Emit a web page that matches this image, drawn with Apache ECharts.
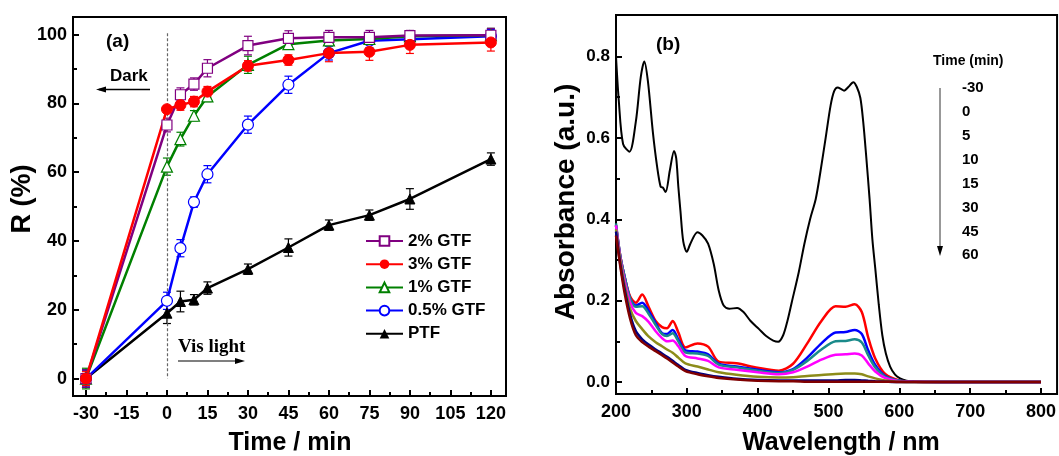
<!DOCTYPE html>
<html>
<head>
<meta charset="utf-8">
<script src="https://cdn.jsdelivr.net/npm/echarts@6/dist/echarts.min.js"></script>
<style>
  html, body { margin: 0; padding: 0; background: #fff; }
  #chart { width: 1059px; height: 456px; }
</style>
</head>
<body>
<div id="chart"></div>
<script>
// (a) R vs time
const timeMin = [-30, 0, 5, 10, 15, 30, 45, 60, 75, 90, 120];
const r2GTF = [0, 73.7, 82.5, 85.6, 90.2, 96.8, 98.9, 99.2, 99.2, 99.7, 99.8];
const e2GTF = [2.5, 2, 2, 1.8, 2.5, 2.7, 2.2, 2, 2, 1.5, 2];
const r3GTF = [0, 78.3, 79.5, 80.5, 83.4, 90.9, 92.6, 94.6, 95.0, 97.0, 97.7];
const e3GTF = [2, 1, 1.5, 1.5, 1.5, 1.5, 1.5, 2.5, 2.5, 2.5, 2.5];
const r1GTF = [0, 61.6, 69.6, 76.4, 82.0, 91.2, 97.2, 98.3, 98.7, 99.5, 99.8];
const e1GTF = [3, 2.5, 2, 1.5, 1.5, 2.5, 1.5, 1.5, 1.5, 1.5, 2];
const r05GTF = [0, 22.6, 37.9, 51.3, 59.4, 73.8, 85.4, 94.6, 98.2, 98.6, 99.5];
const e05GTF = [2.5, 2.5, 2.5, 1.5, 2.5, 2.5, 2.5, 2, 2, 2, 2];
const rPTF = [0, 19.0, 22.4, 22.9, 26.3, 31.8, 38.1, 44.6, 47.5, 52.2, 63.8];
const ePTF = [2.5, 3, 3, 1.5, 1.8, 1.5, 2.5, 1.5, 1.5, 3, 1.8];

const timeTicks = [-30, -15, 0, 15, 30, 45, 60, 75, 90, 105, 120];
const timeMinor = [-22.5, -7.5, 7.5, 22.5, 37.5, 52.5, 67.5, 82.5, 97.5, 112.5];
const rTicks = [0, 20, 40, 60, 80, 100];
const rMinor = [10, 30, 50, 70, 90];

// (b) absorbance spectra
const wlBlack = [200, 204, 210, 219, 228, 235, 240, 245, 252, 258, 263, 266, 270, 276, 282, 285, 288, 291, 295, 300,
  305, 315, 322, 330, 338, 345, 352, 360, 371, 380, 390, 402, 412, 422, 429, 436, 442, 448, 458, 466, 474, 482,
  488, 496, 503, 508, 513, 518, 522, 528, 535, 540, 545, 549, 553, 558, 562, 566, 571, 576, 581, 587, 594, 601,
  610, 620, 700, 800];
const absM30 = [0.80, 0.69, 0.585, 0.566, 0.64, 0.75, 0.788, 0.74, 0.615, 0.53, 0.48, 0.478, 0.467, 0.52, 0.568, 0.55,
  0.48, 0.42, 0.345, 0.32, 0.34, 0.368, 0.36, 0.34, 0.29, 0.225, 0.188, 0.18, 0.182, 0.172, 0.15, 0.13, 0.113,
  0.102, 0.099, 0.115, 0.15, 0.195, 0.27, 0.34, 0.40, 0.45, 0.51, 0.60, 0.68, 0.715, 0.724, 0.72, 0.716, 0.725,
  0.737, 0.725, 0.698, 0.64, 0.56, 0.45, 0.35, 0.28, 0.19, 0.115, 0.07, 0.038, 0.018, 0.009, 0.003, 0.001, 0, 0];

const wl = [200, 206, 212, 220, 228, 237, 246, 256, 265, 272, 280, 288, 298, 315, 330, 345, 370, 400, 430, 450,
  470, 490, 510, 524, 537, 547, 556, 566, 580, 600, 620, 700, 800];
const abs0 = [0.385, 0.31, 0.26, 0.21, 0.195, 0.215, 0.185, 0.15, 0.135, 0.132, 0.15, 0.122, 0.085, 0.095, 0.087,
  0.05, 0.046, 0.035, 0.028, 0.045, 0.095, 0.15, 0.186, 0.185, 0.191, 0.172, 0.11, 0.058, 0.02, 0.004, 0.001, 0, 0];
const abs5 = [0.385, 0.31, 0.26, 0.205, 0.188, 0.195, 0.175, 0.145, 0.12, 0.118, 0.128, 0.105, 0.078, 0.075, 0.068,
  0.045, 0.038, 0.03, 0.024, 0.032, 0.06, 0.095, 0.122, 0.123, 0.128, 0.118, 0.078, 0.042, 0.015, 0.003, 0.001, 0, 0];
const abs10 = [0.39, 0.31, 0.26, 0.205, 0.185, 0.186, 0.168, 0.14, 0.118, 0.113, 0.12, 0.1, 0.073, 0.07, 0.064,
  0.043, 0.036, 0.028, 0.022, 0.03, 0.052, 0.08, 0.1, 0.101, 0.105, 0.097, 0.066, 0.036, 0.013, 0.003, 0.001, 0, 0];
const abs15 = [0.385, 0.305, 0.25, 0.195, 0.17, 0.162, 0.148, 0.125, 0.108, 0.1, 0.102, 0.088, 0.064, 0.058, 0.052,
  0.036, 0.03, 0.024, 0.019, 0.024, 0.038, 0.055, 0.067, 0.068, 0.07, 0.065, 0.046, 0.026, 0.01, 0.002, 0.001, 0, 0];
const abs30 = [0.375, 0.30, 0.24, 0.18, 0.15, 0.13, 0.112, 0.098, 0.088, 0.08, 0.072, 0.06, 0.046, 0.038, 0.031,
  0.024, 0.018, 0.013, 0.011, 0.012, 0.015, 0.017, 0.02, 0.021, 0.021, 0.019, 0.014, 0.009, 0.004, 0.001, 0, 0, 0];
const abs45 = [0.37, 0.29, 0.23, 0.165, 0.125, 0.105, 0.092, 0.08, 0.07, 0.062, 0.052, 0.042, 0.03, 0.022, 0.017,
  0.013, 0.008, 0.005, 0.004, 0.004, 0.004, 0.004, 0.004, 0.005, 0.005, 0.004, 0.003, 0.002, 0.001, 0, 0, 0, 0];
const abs60 = [0.36, 0.285, 0.22, 0.155, 0.115, 0.098, 0.087, 0.076, 0.066, 0.058, 0.048, 0.038, 0.027, 0.019, 0.014,
  0.01, 0.006, 0.003, 0.002, 0.002, 0.001, 0.001, 0.001, 0.001, 0.001, 0.001, 0.001, 0.001, 0.001, 0, 0, 0, 0];

const wlTicks = [200, 300, 400, 500, 600, 700, 800];
const wlMinor = [250, 350, 450, 550, 650, 750];
const absTicks = [0, 0.2, 0.4, 0.6, 0.8];
const absMinor = [0.1, 0.3, 0.5, 0.7];
const timeLabels = ['-30', '0', '5', '10', '15', '30', '45', '60'];

const FONT = "'Liberation Sans', Arial, sans-serif";

function majorAxis(grid, pos, min, max, ticks, fmt, fontSize, margin) {
    return {
        type: 'value', gridIndex: grid, position: pos, min: min, max: max,
        axisLine: { show: false, onZero: false },
        splitLine: { show: false },
        axisTick: { inside: true, length: 6, customValues: ticks, lineStyle: { color: '#000', width: 2 } },
        axisLabel: {
            customValues: ticks, margin: margin, color: '#000',
            fontSize: fontSize, fontWeight: 'bold', fontFamily: FONT,
            formatter: fmt
        }
    };
}

function minorAxis(grid, pos, min, max, ticks) {
    return {
        type: 'value', gridIndex: grid, position: pos, min: min, max: max,
        axisLine: { show: false, onZero: false },
        splitLine: { show: false },
        axisLabel: { show: false },
        axisTick: { inside: true, length: 4, customValues: ticks, lineStyle: { color: '#000', width: 2 } }
    };
}

// 误差棒
function errorBars(vals, errs, color) {
    return {
        type: 'custom', xAxisIndex: 0, yAxisIndex: 0, silent: true, z: 4,
        data: timeMin.map((t, i) => [t, vals[i], errs[i]]),
        encode: { x: 0, y: 1 },
        renderItem: function(params, api) {
            const x = api.value(0), y = api.value(1), e = api.value(2);
            const top = api.coord([x, y + e]);
            const bot = api.coord([x, y - e]);
            const w = 4;
            const st = { stroke: color, lineWidth: 1.2 };
            return {
                type: 'group',
                children: [
                    { type: 'line', shape: { x1: top[0], y1: top[1], x2: bot[0], y2: bot[1] }, style: st },
                    { type: 'line', shape: { x1: top[0] - w, y1: top[1], x2: top[0] + w, y2: top[1] }, style: st },
                    { type: 'line', shape: { x1: bot[0] - w, y1: bot[1], x2: bot[0] + w, y2: bot[1] }, style: st }
                ]
            };
        }
    };
}

function rLine(name, vals, color, symbol, size, open) {
    return {
        name: name, type: 'line', xAxisIndex: 0, yAxisIndex: 0, z: 5,
        data: timeMin.map((t, i) => [t, vals[i]]),
        symbol: symbol, symbolSize: size,
        lineStyle: { color: color, width: 2.5 },
        itemStyle: open ? { color: '#fff', borderColor: color, borderWidth: 1.2 } : { color: color, borderColor: color },
        emphasis: { disabled: true }
    };
}

function specLine(vals, xs, color, width) {
    return {
        type: 'line', xAxisIndex: 2, yAxisIndex: 2,
        data: xs.map((w, i) => [w, vals[i]]),
        showSymbol: false, smooth: 0.3,
        lineStyle: { color: color, width: width },
        emphasis: { disabled: true }
    };
}

function arrowHead(x, y, dir) {
    // dir: 'left' | 'right' | 'down'
    let pts;
    if (dir === 'left') pts = [[x, y], [x + 10, y - 3], [x + 10, y + 3]];
    else if (dir === 'right') pts = [[x, y], [x - 10, y - 3], [x - 10, y + 3]];
    else pts = [[x, y], [x - 3, y - 10], [x + 3, y - 10]];
    return { type: 'polygon', shape: { points: pts }, style: { fill: '#000' } };
}

function txt(x, y, text, size, extra) {
    return {
        type: 'text', x: x, y: y,
        style: Object.assign({ text: text, fill: '#000', font: 'bold ' + size + 'px ' + FONT,
            align: 'left', verticalAlign: 'middle' }, (extra || {}))
    };
}

const graphics = [
    txt(23, 199, 'R (%)', 27, { align: 'center' }),
    txt(290, 443, 'Time / min', 25, { align: 'center' }),
    txt(566, 202, 'Absorbance (a.u.)', 28, { align: 'center' }),
    txt(841, 443, 'Wavelength / nm', 25, { align: 'center' }),
    txt(106, 42, '(a)', 19),
    txt(110, 76, 'Dark', 17),
    { type: 'line', shape: { x1: 99, y1: 89.5, x2: 150, y2: 89.5 }, style: { stroke: '#000', lineWidth: 1.5 } },
    arrowHead(96, 89.5, 'left'),
    txt(178, 347, 'Vis light', 19, { font: "bold 19px 'Liberation Serif', 'Times New Roman', serif" }),
    { type: 'line', shape: { x1: 178, y1: 361, x2: 240, y2: 361 }, style: { stroke: '#000', lineWidth: 1.2 } },
    arrowHead(245, 361, 'right'),
    txt(656, 45, '(b)', 19),
    txt(933, 61, 'Time (min)', 14),
    { type: 'line', shape: { x1: 940, y1: 88, x2: 940, y2: 248 }, style: { stroke: '#333', lineWidth: 1 } },
    arrowHead(940, 256, 'down')
];
graphics[0].rotation = Math.PI / 2;
graphics[2].rotation = Math.PI / 2;
timeLabels.forEach((t, i) => {
    graphics.push(txt(962, 88 + i * 23.9, t, 15));
});

const chart = echarts.init(document.getElementById('chart'));
const option = {
    animation: false,
    backgroundColor: '#fff',
    grid: [
        { left: 73, top: 17, width: 433, height: 379, show: true, borderColor: '#000', borderWidth: 2, backgroundColor: 'transparent' },
        { left: 616, top: 15, width: 446, height: 379, show: true, borderColor: '#000', borderWidth: 2, backgroundColor: 'transparent' }
    ],
    xAxis: [
        majorAxis(0, 'bottom', -34.8, 125.6, timeTicks, v => String(v), 18, 9),
        minorAxis(0, 'bottom', -34.8, 125.6, timeMinor),
        majorAxis(1, 'bottom', 200, 822.7, wlTicks, v => String(v), 18, 9),
        minorAxis(1, 'bottom', 200, 822.7, wlMinor)
    ],
    yAxis: [
        majorAxis(0, 'left', -5.07, 105.1, rTicks, v => String(v), 18, 6),
        minorAxis(0, 'left', -5.07, 105.1, rMinor),
        majorAxis(1, 'left', -0.0294, 0.902, absTicks, v => v.toFixed(1), 17, 6),
        minorAxis(1, 'left', -0.0294, 0.902, absMinor)
    ],
    legend: {
        data: ['2% GTF', '3% GTF', '1% GTF', '0.5% GTF', 'PTF'],
        orient: 'vertical', left: 365, top: 231, padding: 0,
        itemWidth: 37, itemHeight: 12, itemGap: 3.2,
        textStyle: { fontSize: 17, fontWeight: 'bold', fontFamily: FONT, color: '#000', lineHeight: 20 },
        selectedMode: false
    },
    graphic: graphics,
    series: [
        errorBars(rPTF, ePTF, '#000'),
        errorBars(r05GTF, e05GTF, '#0000ff'),
        errorBars(r1GTF, e1GTF, '#008000'),
        errorBars(r2GTF, e2GTF, '#800080'),
        errorBars(r3GTF, e3GTF, '#ff0000'),
        Object.assign(rLine('PTF', rPTF, '#000', 'triangle', 10, false), {
            markLine: {
                silent: true, symbol: 'none', label: { show: false },
                lineStyle: { color: '#666', type: [3, 2], width: 1.2 },
                data: [[{ coord: [0, 100.4] }, { coord: [0, 0] }]]
            }
        }),
        rLine('0.5% GTF', r05GTF, '#0000ff', 'circle', 11, true),
        rLine('1% GTF', r1GTF, '#008000', 'triangle', 11, true),
        rLine('2% GTF', r2GTF, '#800080', 'rect', 10, true),
        rLine('3% GTF', r3GTF, '#ff0000', 'circle', 11, false),
        specLine(absM30, wlBlack, '#000', 2),
        specLine(abs0, wl, '#ff0000', 2.5),
        specLine(abs5, wl, '#0000ff', 2.5),
        specLine(abs10, wl, '#1a8a8a', 2.5),
        specLine(abs15, wl, '#ff00ff', 2.5),
        specLine(abs30, wl, '#8c8c1a', 2.5),
        specLine(abs45, wl, '#000080', 2.5),
        specLine(abs60, wl, '#800000', 2.5)
    ]
};
chart.setOption(option);
</script>
</body>
</html>
